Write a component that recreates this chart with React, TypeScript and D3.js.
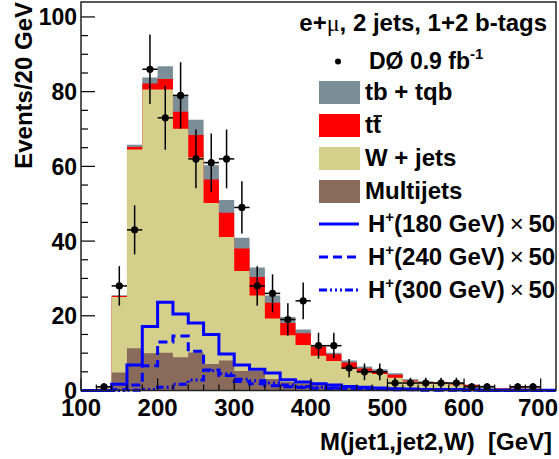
import * as d3 from 'd3'

// 20 GeV bins, low edges
const binLo = [100, 120, 140, 160, 180, 200, 220, 240, 260, 280, 300, 320, 340, 360, 380, 400,
  420, 440, 460, 480, 500, 520, 540, 560, 580, 600, 620, 640, 660, 680, 700]
const binWidth = 20

// background components (events per bin)
const multijets = [0, 0.3, 4.8, 11.3, 10, 10.1, 8.9, 10.2, 7.1, 8, 5.2, 5.2, 3.1, 2.3, 1.9, 1.6,
  1.4, 1.2, 1, 0.9, 0.8, 0.7, 0.6, 0.5, 0.5, 0.4, 0.4, 0.3, 0.3, 0.2, 0]
const wjets = [0, 0.5, 20.2, 53.2, 70.6, 70.5, 61.2, 52.2, 43.1, 33.1, 26.8, 20.2, 16.2, 12.5, 10.3, 7.7,
  6.5, 4.7, 3.9, 3.5, 2.6, 1.7, 1.4, 1.3, 1.1, 0.8, 0.6, 0.2, 0.4, 0.4, 0]
const ttbar = [0, 0, 0.3, 0.7, 1.6, 2.8, 4.5, 6, 6.3, 6.5, 6, 5, 4.2, 3.3, 3.1, 2.4,
  1.8, 1.6, 1, 0.8, 0.8, 0.3, 0.3, 0.3, 0.3, 0.3, 0.2, 0.1, 0.15, 0.15, 0]
const singleTop = [0, 0.1, 0.2, 0.6, 1.6, 3.4, 4.5, 4.1, 3.8, 3.4, 2.9, 2.5, 1.9, 1.6, 1, 0.5,
  0.4, 0.5, 0.5, 0.5, 0.4, 0.3, 0.2, 0.2, 0.2, 0.1, 0.1, 0.1, 0.05, 0.05, 0]

// observed data
const observed = [0, 1, 28, 43, 86, 73, 79, 62, 61, 62, 49, 28, 26, 19, 24, 12,
  12, 6, 5, 5, 2, 2, 2, 2, 2, 1, 1, 0, 1, 1, 0]

// charged Higgs signals x 50
const hp180 = [0, 0, 1.7, 6.8, 17.1, 23.6, 20.5, 18.1, 15, 9.8, 6.8, 5.7, 4.7, 2.9, 2.3, 1.8,
  1.5, 1.1, 0.9, 0.7, 0.5, 0.4, 0.3, 0.3, 0.2, 0.2, 0.1, 0.1, 0.1, 0.1, 0.1]
const hp240 = [0, 0, 0.2, 1.5, 6.6, 13, 14.6, 10.5, 5.5, 4, 2.4, 1.8, 1.3, 1, 0.8, 0.6,
  0.5, 0.4, 0.3, 0.3, 0.2, 0.2, 0.1, 0.1, 0.1, 0.1, 0.1, 0, 0, 0, 0]
const hp300 = [0, 0, 0, 0.1, 0.3, 0.9, 1.7, 2.8, 5.3, 4.5, 3, 2.6, 2, 1.5, 1.1, 0.9,
  0.7, 0.6, 0.5, 0.4, 0.3, 0.3, 0.2, 0.2, 0.2, 0.1, 0.1, 0.1, 0.1, 0, 0]

const xTicks = [100, 200, 300, 400, 500, 600, 700]
const yTicks = [0, 20, 40, 60, 80, 100]

const font = '"Liberation Sans", Arial, sans-serif'
const frame = { left: 81, top: 2, right: 556, bottom: 390.5 }

const colors: Record<string, string> = {
  st: '#7b8d97',
  tt: '#ff0000',
  wj: '#d5cf8c',
  mj: '#8a6a5a',
}

export default function App() {
  const x = d3.scaleLinear().domain([100, 720]).range([frame.left, frame.right])
  const y = d3.scaleLinear().domain([0, 104]).range([frame.bottom, frame.top])

  const rows = binLo.map((lo, i) => ({ lo, mj: multijets[i], wj: wjets[i], tt: ttbar[i], st: singleTop[i] }))
  const series = d3.stack<any>().keys(['mj', 'wj', 'tt', 'st'])(rows)

  // cumulative fills drawn from zero, outermost first
  const area = d3.area<[number, number]>()
    .curve(d3.curveStepAfter)
    .x(p => x(p[0]))
    .y0(y(0))
    .y1(p => y(p[1]))
  const stepLine = d3.line<[number, number]>()
    .curve(d3.curveStepAfter)
    .x(p => x(p[0]))
    .y(p => y(p[1]))
  const steps = (vals: number[]): [number, number][] => {
    const pts = binLo.map((lo, i) => [lo, vals[i]] as [number, number])
    pts.push([binLo[binLo.length - 1] + binWidth, vals[vals.length - 1]])
    return pts
  }

  const minorX = binLo.filter(v => v % 100 !== 0)
  const minorY = d3.range(0, 105, 5).filter(v => v % 20 !== 0)

  const legendX = 319
  const textX = 365
  const rowY = (i: number) => 67 + 33 * i
  const legendBoxes = [
    { key: 'st', label: 'tb + tqb' },
    { key: 'tt', label: 'tt' },
    { key: 'wj', label: 'W + jets' },
    { key: 'mj', label: 'Multijets' },
  ]
  const legendLines = [
    { mass: '180', dash: undefined },
    { mass: '240', dash: '9,5' },
    { mass: '300', dash: '8,3,2,3,2,3,2,3' },
  ]

  return (
    <svg width={559} height={459} style={{ position: 'absolute', left: 0, top: 0, background: '#fff' }}
      fontFamily={font} fontWeight="bold">
      <defs>
        <clipPath id="plot">
          <rect x={frame.left} y={frame.top} width={frame.right - frame.left} height={frame.bottom - frame.top + 2} />
        </clipPath>
      </defs>

      <g clipPath="url(#plot)">
        {series.slice().reverse().map(s => (
          <path key={s.key} d={area(steps(s.map(d => d[1])))!} fill={colors[s.key]} />
        ))}
        <path d={stepLine(steps(hp300))!} fill="none" stroke="#0000ff" strokeWidth={3} strokeDasharray="8,3,2,3,2,3,2,3" />
        <path d={stepLine(steps(hp240))!} fill="none" stroke="#0000ff" strokeWidth={3} strokeDasharray="9,5" />
        <path d={stepLine(steps(hp180))!} fill="none" stroke="#0000ff" strokeWidth={3} />
      </g>

      {/* data points */}
      {observed.map((n, i) => {
        if (n <= 0) return null
        const e = Math.sqrt(n)
        const cx = x(binLo[i] + binWidth / 2)
        return (
          <g key={i} stroke="#000" strokeWidth={1.5}>
            <line x1={cx} x2={cx} y1={y(n - e)} y2={y(n + e)} />
            <line x1={x(binLo[i])} x2={x(binLo[i] + binWidth)} y1={y(n)} y2={y(n)} />
            <circle cx={cx} cy={y(n)} r={3.6} fill="#000" stroke="none" />
          </g>
        )
      })}

      {/* axes */}
      <g stroke="#000" strokeWidth={1.2}>
        {xTicks.map(t => <line key={t} x1={x(t)} x2={x(t)} y1={frame.bottom} y2={frame.bottom - 12} />)}
        {minorX.map(t => <line key={t} x1={x(t)} x2={x(t)} y1={frame.bottom} y2={frame.bottom - 6} />)}
        {yTicks.map(t => <line key={t} x1={frame.left} x2={frame.left + 14} y1={y(t)} y2={y(t)} />)}
        {minorY.map(t => <line key={t} x1={frame.left} x2={frame.left + 7} y1={y(t)} y2={y(t)} />)}
      </g>
      <rect x={frame.left} y={frame.top} width={frame.right - frame.left} height={frame.bottom - frame.top}
        fill="none" stroke="#222" strokeWidth={1.5} />

      <g fontSize={24} fill="#000">
        {xTicks.map(t => (
          <text key={t} x={Math.min(x(t), 538)} y={416} textAnchor="middle">{t}</text>
        ))}
        {yTicks.map(t => (
          <text key={t} x={77} y={y(t) + 8.5} textAnchor="end" fontSize={23}>{t}</text>
        ))}
        <text x={552} y={450} textAnchor="end" style={{ whiteSpace: 'pre' }}>M(jet1,jet2,W)  [GeV]</text>
        <text transform={`translate(32,2) rotate(-90)`} textAnchor="end">Events/20 GeV</text>
      </g>

      {/* header */}
      <text x={547} y={31} textAnchor="end" fontSize={24}>
        e+<tspan fontWeight="normal" fontFamily='"Liberation Serif", serif'>μ</tspan>, 2 jets, 1+2 b-tags
      </text>

      {/* legend */}
      <circle cx={338} cy={61.5} r={3} fill="#000" />
      <text x={textX + 4} y={69} fontSize={23}>
        DØ 0.9 fb<tspan fontSize={15} dy={-10}>-1</tspan>
      </text>
      {legendBoxes.map((b, i) => (
        <g key={b.key}>
          <rect x={legendX} y={rowY(i + 1) - 19} width={41} height={23} fill={colors[b.key]} />
          <text x={textX} y={rowY(i + 1)} fontSize={24}>{b.label}</text>
        </g>
      ))}
      <line x1={textX + 8.5} x2={textX + 17} y1={rowY(2) - 17} y2={rowY(2) - 17} stroke="#000" strokeWidth={1.8} />
      {legendLines.map((l, i) => {
        const by = rowY(i + 5)
        return (
          <g key={l.mass}>
            <line x1={legendX} x2={legendX + 40} y1={by - 8} y2={by - 8} stroke="#0000ff" strokeWidth={3}
              strokeDasharray={l.dash} />
            <text x={textX + 3} y={by} fontSize={24}>
              H<tspan fontSize={15} dy={-10}>+</tspan>
              <tspan dy={10}>({l.mass} GeV)</tspan>
              <tspan fontWeight="normal">{'\u2009×\u2009'}</tspan>50
            </text>
          </g>
        )
      })}
    </svg>
  )
}
